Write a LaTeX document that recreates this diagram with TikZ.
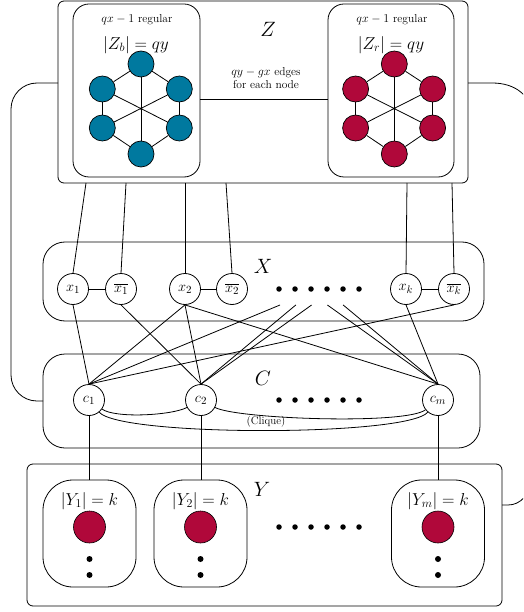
\documentclass[tikz,border=0pt]{standalone}
\usepackage{amsmath}
\definecolor{blueZ}{RGB}{0,121,159}
\definecolor{redZ}{RGB}{176,8,58}
\begin{document}
\begin{tikzpicture}[x=1pt,y=-1pt,line width=0.8pt,
  box/.style={draw, rectangle, inner sep=0pt, outer sep=0pt},
  vnode/.style={circle, draw, minimum size=31pt, inner sep=0pt, font=\fontsize{15}{18}\selectfont},
  hexnode/.style={circle, draw, minimum size=26pt, inner sep=0pt, line width=0.7pt},
  setlabel/.style={font=\fontsize{20}{24}\selectfont},
  smalltext/.style={font=\fontsize{11.5}{13.5}\selectfont, align=center},
  sizetext/.style={font=\fontsize{18}{22}\selectfont},
  ysizetext/.style={font=\fontsize{16.5}{20}\selectfont},
  rowdot/.style={circle, fill, inner sep=0pt, minimum size=5.5pt},
  ydot/.style={circle, fill, inner sep=0pt, minimum size=6pt},
  ynode/.style={circle, draw, fill=redZ, minimum size=32pt, inner sep=0pt, line width=0.6pt}]
\useasboundingbox (0,0) rectangle (523,612);
\clip (0,0) rectangle (523,612);

% ---------------- Z ----------------
\node[box, rounded corners=6pt, minimum width=410pt, minimum height=182pt] (Z) at (263,92) {};
\node[box, rounded corners=16pt, minimum width=127pt, minimum height=173pt] (Zb) at (136.5,90.5) {};
\node[box, rounded corners=16pt, minimum width=126pt, minimum height=173pt] (Zr) at (391,90.5) {};
\node[setlabel] (Zl) at (268,29) {$Z$};
\node[smalltext] (Zbt) at (137,20) {$qx-1$ regular};
\node[smalltext] (Zrt) at (392,20) {$qx-1$ regular};
\node[sizetext] (Zbs) at (136,45) {$|Z_b|=qy$};
\node[sizetext] (Zrs) at (391,45) {$|Z_r|=qy$};
\node[smalltext] (edg) at (266,78) {$qy-gx$ edges\\for each node};
\coordinate (hz) at (0,99);
\draw (Zb.east |- hz) -- (Zr.west |- hz);

\foreach \p/\cx/\col in {b/141/blueZ, r/394.3/redZ} {
  \node[hexnode, fill=\col] (\p1) at (\cx,64) {};
  \node[hexnode, fill=\col] (\p2) at (\cx-38.7,89) {};
  \node[hexnode, fill=\col] (\p3) at (\cx+38.3,89) {};
  \node[hexnode, fill=\col] (\p4) at (\cx-38.7,128) {};
  \node[hexnode, fill=\col] (\p5) at (\cx+38.3,128) {};
  \node[hexnode, fill=\col] (\p6) at (\cx,154) {};
  \coordinate (\p c) at (\cx,108.7);
}
\foreach \p in {b,r} {
  \draw (\p1) -- (\p2);
  \draw (\p1) -- (\p3);
  \draw (\p2) -- (\p4);
  \draw (\p3) -- (\p5);
  \draw (\p4) -- (\p6);
  \draw (\p5) -- (\p6);
  \draw (\p1) -- (\p6);
  \draw (\p2) -- (\p5);
  \draw (\p3) -- (\p4);
  \fill (\p c) circle (1.3pt);
}

% ---------------- X ----------------
\node[box, rounded corners=22pt, minimum width=441pt, minimum height=79pt] (X) at (263.5,281.5) {};
\node[setlabel] (Xl) at (263,266) {$X$};
\node[vnode] (x1) at (73,289) {$x_1$};
\node[vnode] (xb1) at (121,289) {$\overline{x_1}$};
\node[vnode] (x2) at (185,289) {$x_2$};
\node[vnode] (xb2) at (232,289) {$\overline{x_2}$};
\node[vnode] (xk) at (406,289) {$x_k$};
\node[vnode] (xbk) at (454,289) {$\overline{x_k}$};
\draw (x1) -- (xb1);
\draw (x2) -- (xb2);
\draw (xk) -- (xbk);
\foreach \i in {0,...,5} {
  \node[rowdot] (xd\i) at (279+16*\i,289) {};
  \coordinate (xs\i) at (280+15.8*\i,305);
}

% Z -> X connectors
\coordinate (t1) at (86,183);
\coordinate (t2) at (126,183);
\coordinate (t3) at (185,183);
\coordinate (t4) at (226,183);
\coordinate (t5) at (407,183);
\coordinate (t6) at (452,183);
\draw (t1) -- (x1.north);
\draw (t2) -- (xb1.north);
\draw (t3) -- (x2.north);
\draw (t4) -- (xb2.north);
\draw (t5) -- (xk.north);
\draw (t6) -- (xbk.north);

% ---------------- C ----------------
\node[box, rounded corners=22pt, minimum width=437pt, minimum height=94pt] (C) at (261.5,401) {};
\node[setlabel] (Cl) at (263,378) {$C$};
\node[vnode] (c1) at (89,400) {$c_1$};
\node[vnode] (c2) at (201,400) {$c_2$};
\node[vnode] (cm) at (438,400) {$c_m$};
\foreach \i in {0,...,5} {
  \node[rowdot] (cd\i) at (279+16*\i,400) {};
}
\draw (c1) to[out=-35,in=-152,looseness=0.5] (c2);
\draw (c2) to[out=-28,in=-142,looseness=0.3] (cm);
\draw (c1) to[out=-50,in=-130,looseness=0.25] (cm);
\node[font=\fontsize{11}{13}\selectfont] (cliq) at (266,422) {(Clique)};

% X -> C connectors
\draw (x1.south) -- (c1.north);
\draw (xb1.south) -- (c2.north);
\draw (x2.south) -- (c1.north);
\draw (x2.south) -- (c2.north);
\draw (x2.south) -- (cm.north);
\draw (xs0) -- (c1.north);
\draw (xs1) -- (c2.north);
\draw (xs2) -- (c2.north);
\draw (xs3) -- (cm.north);
\draw (xs4) -- (cm.north);
\draw (xbk.south) -- (c1.north);
\draw (xk.south) -- (cm.north);

% ---------------- Y ----------------
\node[box, rounded corners=6pt, minimum width=475pt, minimum height=142pt] (Y) at (264.5,535) {};
\node[setlabel] (Yl) at (262,489) {$Y$};
\foreach \n/\cx/\lab in {1/89.5/1, 2/200.5/2, m/438/m} {
  \node[box, rounded corners=30pt, minimum width=93pt, minimum height=107pt] (Y\n) at (\cx,533.5) {};
  \node[ysizetext] (Yt\n) at (\cx,501) {$|Y_{\lab}|=k$};
  \node[ynode] (yr\n) at (\cx,527) {};
  \node[ydot] (ya\n) at (\cx,559) {};
  \node[ydot] (yb\n) at (\cx,575) {};
}
\foreach \i in {0,...,5} {
  \node[rowdot] (yd\i) at (279+16*\i,527) {};
}
% C -> Y connectors
\draw (c1.south) -- (c1.south |- Y1.north);
\draw (c2.south) -- (c2.south |- Y2.north);
\draw (cm.south) -- (cm.south |- Ym.north);

% ---------------- long connectors ----------------
\coordinate (hl) at (0,83);
\coordinate (hy) at (0,505);
\draw[rounded corners=26pt] (Z.west |- hl) -| (11,401) -- (C.west);
\draw (Z.east |- hl) -- (492,83) .. controls (515,83) and (532,95) .. (534,120)
      -- (534,470) .. controls (532,495) and (520,505) .. (508,505) -- (Y.east |- hy);
\end{tikzpicture}
\end{document}
